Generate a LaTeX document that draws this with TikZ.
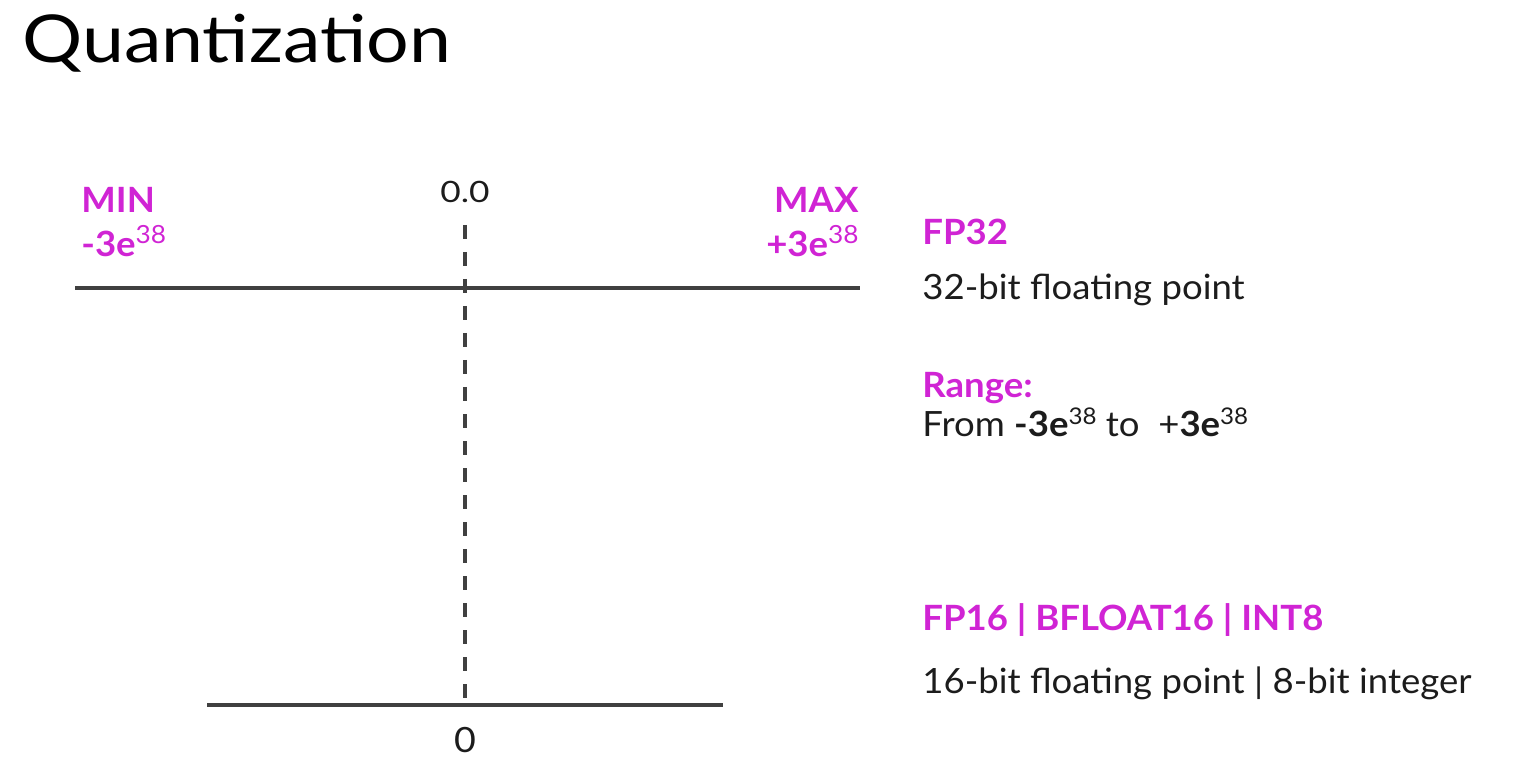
\documentclass[tikz,border=0pt]{standalone}
\usepackage{fontspec}
\setmainfont{Lato}
\definecolor{mag}{RGB}{208,36,212}
\definecolor{txt}{RGB}{28,28,28}
\definecolor{ln}{RGB}{64,64,64}
\newcommand\sx[1]{\scalebox{1.05}[1]{#1}}
\newcommand\supa[1]{\raisebox{6.5pt}{\mdseries\fontsize{12.5}{12}\selectfont #1}}
\newcommand\supb[1]{\raisebox{6pt}{\mdseries\fontsize{11.5}{12}\selectfont #1}}
\tikzset{
  axis/.style={draw=ln, line width=1.8pt},
  dash line/.style={draw=ln, line width=1.6pt, dash pattern=on 7pt off 6.5pt},
  lab/.style={inner sep=0pt, font=\fontsize{17.4}{20}\selectfont\bfseries, text=mag},
  body/.style={inner sep=0pt, font=\fontsize{17.4}{20}\selectfont, text=txt},
  tick/.style={inner sep=0pt, text=txt}
}
\begin{document}
\begin{tikzpicture}[x=0.5pt,y=-0.5pt]
\useasboundingbox (0,0) rectangle (1514,780);
\node[inner sep=0pt, anchor=base west, font=\fontsize{33}{36}\selectfont, text=black] (title) at (22,63) {\scalebox{1.14}[1]{Quantization}};
% top axis
\coordinate (tl) at (75,288);
\coordinate (tr) at (860,288);
\draw[axis] (tl) -- (tr);
% bottom axis
\coordinate (bl) at (207,705);
\coordinate (br) at (723,705);
\draw[axis] (bl) -- (br);
% dashed zero line
\coordinate (dtop) at (465,225);
\coordinate (dbot) at (465,709);
\draw[dash line] (dtop) -- (dbot);
\node[tick, anchor=base, font=\fontsize{14.7}{18}\selectfont] (zz) at (465,203) {\scalebox{1.2}[1]{0.0}};
\node[tick, anchor=base, font=\fontsize{17.4}{18}\selectfont] (z) at (465,752) {\scalebox{1.08}[1]{0}};
% min / max
\node[lab, anchor=base west] (min) at (81,213) {\sx{MIN}};
\node[lab, anchor=base west] (minv) at (81,257) {\sx{-3e\supa{38}}};
\node[lab, anchor=base east] (max) at (859,213) {\sx{MAX}};
\node[lab, anchor=base east] (maxv) at (859,257) {\sx{+3e\supa{38}}};
% right panel
\node[lab, anchor=base west] (fp32) at (922,245) {\sx{FP32}};
\node[body, anchor=base west] (fp32d) at (922,300) {\sx{32-bit floating point}};
\node[lab, anchor=base west] (range) at (922,397) {\sx{Range:}};
\node[body, anchor=base west] (ranged) at (922,437) {\sx{From \textbf{-3e}\supb{38} to~ +\textbf{3e}\supb{38}}};
\node[lab, anchor=base west] (fp16) at (922,630) {\sx{FP16 | BFLOAT16 | INT8}};
\node[body, anchor=base west] (fp16d) at (922,693) {\sx{16-bit floating point | 8-bit integer}};
\end{tikzpicture}
\end{document}
